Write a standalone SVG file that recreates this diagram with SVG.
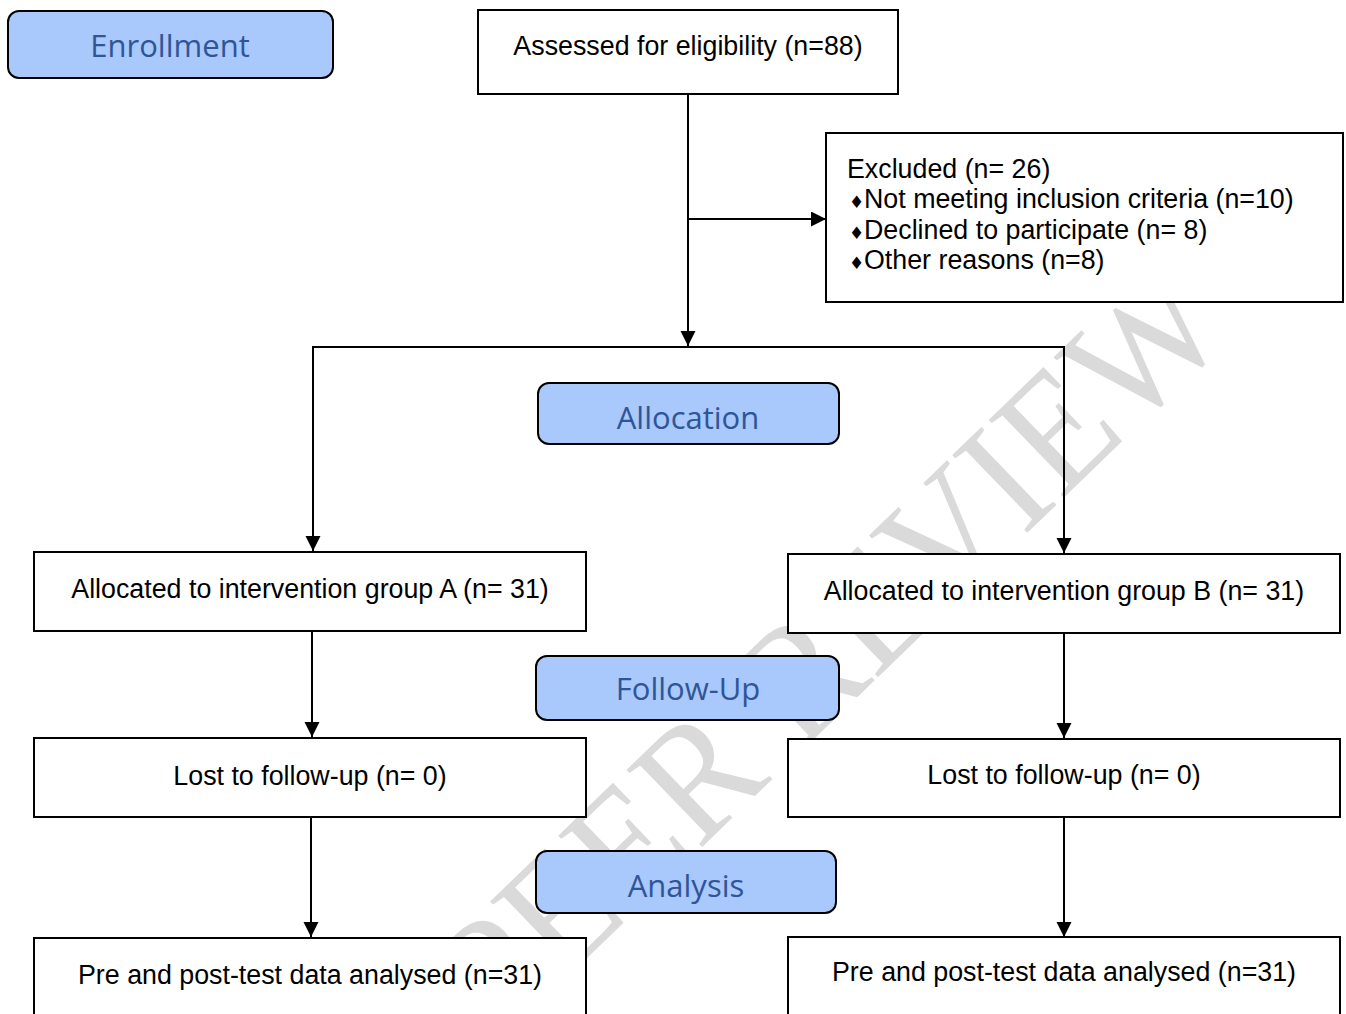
<svg xmlns="http://www.w3.org/2000/svg" width="1346" height="1014" viewBox="0 0 1346 1014">
<defs>
<style>
.box{fill:#ffffff;stroke:#000;stroke-width:2}
.stage{fill:#a9c8fb;stroke:#000;stroke-width:2}
.t{font-family:"Liberation Sans",Arial,sans-serif;font-size:26.8px;fill:#000}
.c{text-anchor:middle}
.st{font-family:"Open Sans","Noto Sans",sans-serif;font-size:31px;fill:#2f5597;text-anchor:middle}
.dia{font-family:"DejaVu Sans",sans-serif;font-size:17px;fill:#000}
.conn path{fill:none;stroke:#000;stroke-width:2;marker-end:url(#arr)}
.wm{font-family:"Liberation Serif","Times New Roman",serif;font-size:165px;fill:#dadada}
</style>
<marker id="arr" markerUnits="userSpaceOnUse" markerWidth="16" markerHeight="16" refX="15" refY="7.5" orient="auto">
<path d="M0,0 L15,7.5 L0,15 Z" fill="#000"/>
</marker>
</defs>
<rect width="1346" height="1014" fill="#fff"/>
<text class="wm" transform="translate(500,1042) rotate(-44)" textLength="1020" lengthAdjust="spacingAndGlyphs">PEER REVIEW</text>

<g id="connectors" class="conn">
<path d="M688,94 V346"/>
<path d="M688,219 H826"/>
<path d="M688,347 H313 V551"/>
<path d="M688,347 H1064 V553"/>
<path d="M312,631 V737"/>
<path d="M1064,633 V738"/>
<path d="M311,817 V937"/>
<path d="M1064,817 V937"/>
</g>

<g id="enrollment">
<rect class="stage" x="8" y="11" width="325" height="67" rx="11"/>
<text class="st" x="170" y="57">Enrollment</text>
</g>
<g id="assessed">
<rect class="box" x="478" y="10" width="420" height="84"/>
<text class="t c" x="688" y="55">Assessed for eligibility (n=88)</text>
</g>
<g id="excluded">
<rect class="box" x="826" y="133" width="517" height="169"/>
<text class="t" x="847" y="178">Excluded (n= 26)</text>
<text class="dia" x="849" y="208">♦</text>
<text class="t" x="864" y="208">Not meeting inclusion criteria (n=10)</text>
<text class="dia" x="849" y="239">♦</text>
<text class="t" x="864" y="239">Declined to participate (n= 8)</text>
<text class="dia" x="849" y="269">♦</text>
<text class="t" x="864" y="269">Other reasons (n=8)</text>
</g>
<g id="allocation">
<rect class="stage" x="538" y="383" width="301" height="61" rx="11"/>
<text class="st" x="688" y="429">Allocation</text>
</g>
<g id="groupA">
<rect class="box" x="34" y="552" width="552" height="79"/>
<text class="t c" x="310" y="598">Allocated to intervention group A (n= 31)</text>
</g>
<g id="groupB">
<rect class="box" x="788" y="554" width="552" height="79"/>
<text class="t c" x="1064" y="600">Allocated to intervention group B (n= 31)</text>
</g>
<g id="followup">
<rect class="stage" x="536" y="656" width="303" height="64" rx="11"/>
<text class="st" x="688" y="700">Follow-Up</text>
</g>
<g id="lostA">
<rect class="box" x="34" y="738" width="552" height="79"/>
<text class="t c" x="310" y="785">Lost to follow-up (n= 0)</text>
</g>
<g id="lostB">
<rect class="box" x="788" y="739" width="552" height="78"/>
<text class="t c" x="1064" y="784">Lost to follow-up (n= 0)</text>
</g>
<g id="analysis">
<rect class="stage" x="536" y="851" width="300" height="62" rx="11"/>
<text class="st" x="686" y="897">Analysis</text>
</g>
<g id="analysedA">
<rect class="box" x="34" y="938" width="552" height="90"/>
<text class="t c" x="310" y="984">Pre and post-test data analysed (n=31)</text>
</g>
<g id="analysedB">
<rect class="box" x="788" y="937" width="552" height="90"/>
<text class="t c" x="1064" y="981">Pre and post-test data analysed (n=31)</text>
</g>
</svg>
